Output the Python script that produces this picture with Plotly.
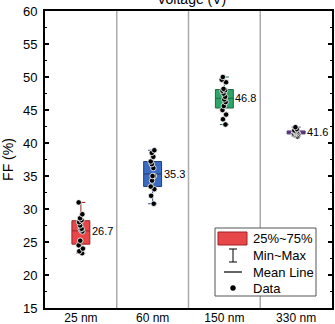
import numpy as np
import plotly.graph_objects as go

# Fill factor measurements per layer thickness
categories = ["25 nm", "60 nm", "150 nm", "330 nm"]
ff_25 = [31.0, 29.2, 28.6, 28.3, 28.0, 27.5, 27.0, 26.9, 26.6, 25.2, 24.5, 24.0, 23.6, 23.3]
ff_60 = [38.9, 38.5, 37.9, 37.2, 36.8, 36.2, 35.0, 35.0, 34.3, 33.4, 33.0, 32.0, 30.8]
ff_150 = [50.0, 49.6, 49.2, 48.2, 48.0, 47.9, 47.5, 47.0, 46.6, 46.2, 45.6, 45.0, 44.3, 43.6, 42.8]
ff_330 = [42.4, 42.1, 41.9, 41.8, 41.7, 41.6, 41.5, 41.5, 41.4, 41.3, 41.2, 41.0]
groups = [ff_25, ff_60, ff_150, ff_330]

fills = ["#E8474A", "#3A6BC0", "#2EA36A", "#7E57A8"]
edges = ["#9E2226", "#1F3F7A", "#1B6B3E", "#4A2F6B"]

FONT = "Liberation Sans, Arial, sans-serif"

fig = go.Figure()

for i, (cat, vals) in enumerate(zip(categories, groups)):
    v = np.array(vals)
    q1, q3 = np.percentile(v, [25, 75])
    mean = v.mean()
    # box spans the interquartile range, whiskers min~max, centre line at the mean
    fig.add_trace(go.Box(
        x=[cat], q1=[q1], q3=[q3], median=[mean],
        lowerfence=[v.min()], upperfence=[v.max()],
        fillcolor=fills[i], line=dict(color=edges[i], width=1),
        whiskerwidth=0.5, width=0.25, boxpoints=False,
        showlegend=False, hoverinfo="skip",
    ))
    # individual data points
    fig.add_trace(go.Box(
        x=[cat] * len(v), y=v, boxpoints="all", jitter=0.3, pointpos=0,
        fillcolor="rgba(0,0,0,0)", line=dict(color="rgba(0,0,0,0)", width=0),
        marker=dict(color="black", size=5.5, line=dict(color="white", width=0.8)),
        width=0.25, showlegend=False, hoverinfo="skip",
    ))
    fig.add_annotation(
        x=cat, y=mean, text=f"{mean:.1f}", showarrow=False,
        xanchor="left", xshift=9, font=dict(family=FONT, size=11, color="black"),
    )

# category separators
for k in range(len(categories) - 1):
    fig.add_vline(x=k + 0.5, line=dict(color="#AAAAAA", width=1.5), layer="below")

# plot-area geometry in pixels, used to place the hand-drawn legend
W, H = 335, 324
L, R, T, B = 45, 3, 11, 16
pw, ph = W - L - R, H - T - B


def px(x):
    return (x - L) / pw


def py(y):
    return (H - B - y) / ph


shapes = []
shapes.append(dict(type="rect", xref="paper", yref="paper",
                   x0=px(215), x1=px(316), y0=py(228), y1=py(296),
                   line=dict(color="#555555", width=1), fillcolor="white"))
shapes.append(dict(type="rect", xref="paper", yref="paper",
                   x0=px(218), x1=px(247), y0=py(232), y1=py(245),
                   line=dict(color="#9E2226", width=1), fillcolor=fills[0]))
# I-beam for Min~Max
shapes.append(dict(type="line", xref="paper", yref="paper",
                   x0=px(233), x1=px(233), y0=py(249), y1=py(262),
                   line=dict(color="black", width=1)))
for yy in (249, 262):
    shapes.append(dict(type="line", xref="paper", yref="paper",
                       x0=px(229), x1=px(237), y0=py(yy), y1=py(yy),
                       line=dict(color="black", width=1)))
shapes.append(dict(type="line", xref="paper", yref="paper",
                   x0=px(224), x1=px(242), y0=py(272), y1=py(272),
                   line=dict(color="black", width=1.2)))
shapes.append(dict(type="circle", xref="paper", yref="paper",
                   x0=px(230.5), x1=px(235.5), y0=py(285.5), y1=py(290.5),
                   line=dict(color="black", width=0.5), fillcolor="black"))
for s in shapes:
    fig.add_shape(**s)

for label, yy in [("25%~75%", 238), ("Min~Max", 255), ("Mean Line", 272), ("Data", 288)]:
    fig.add_annotation(xref="paper", yref="paper", x=px(251), y=py(yy),
                       text=label, showarrow=False, xanchor="left", yanchor="middle",
                       font=dict(family=FONT, size=13, color="black"))

fig.add_annotation(xref="paper", yref="paper", x=0.51, y=1, yanchor="bottom",
                   yshift=2, text="Voltage (V)", showarrow=False,
                   font=dict(family=FONT, size=14, color="black"))

fig.update_layout(
    width=W, height=H,
    margin=dict(l=L, r=R, t=T, b=B, autoexpand=False),
    plot_bgcolor="white", paper_bgcolor="white",
    font=dict(family=FONT, size=13, color="black"),
    boxmode="overlay",
)
fig.update_xaxes(
    range=[-0.5, 3.5], showgrid=False, zeroline=False, automargin=False,
    showline=True, linecolor="black", linewidth=2, mirror=True,
    ticks="", tickfont=dict(size=12), ticklabelstandoff=-2,
)
fig.update_yaxes(
    range=[15, 60], dtick=5, showgrid=False, zeroline=False, automargin=False,
    showline=True, linecolor="black", linewidth=2, mirror="ticks",
    ticks="inside", ticklen=4, tickwidth=1.5, tickcolor="black",
    minor=dict(ticks="inside", ticklen=2, tickwidth=1, tickcolor="black", dtick=2.5),
    tickfont=dict(size=13), ticklabelstandoff=3,
    title=dict(text="FF (%)", font=dict(size=14), standoff=6),
)

fig.write_html("out.html")
